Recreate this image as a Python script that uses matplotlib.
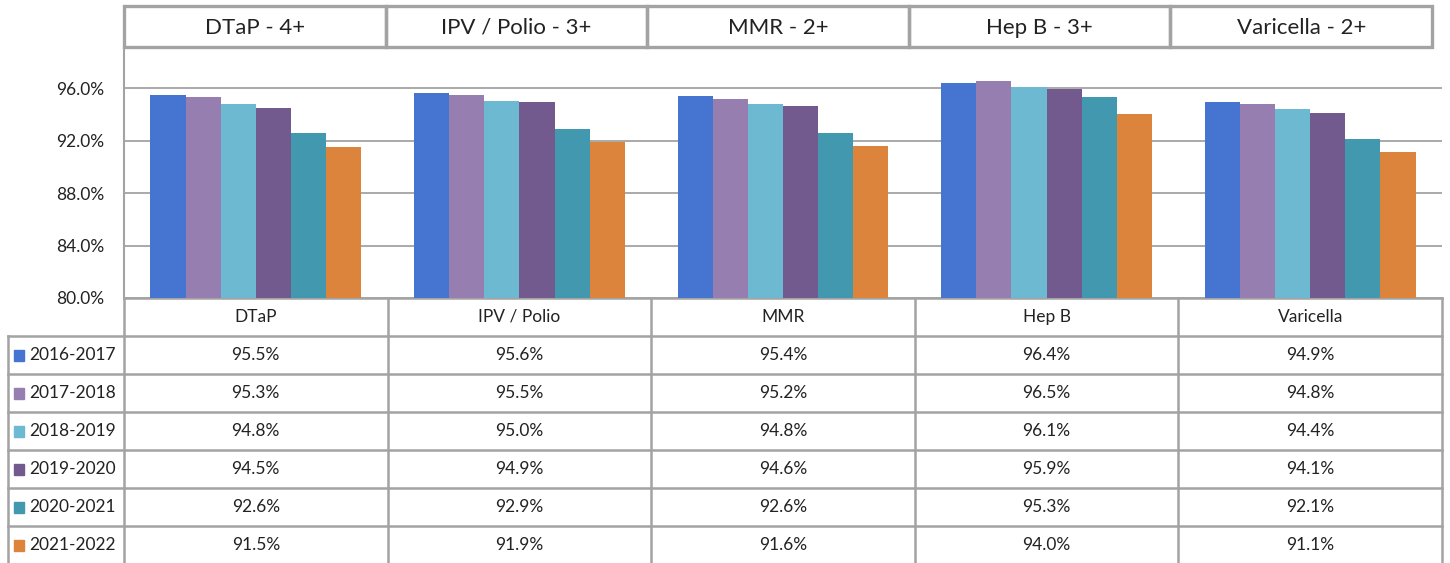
import numpy as np
import matplotlib.pyplot as plt
from matplotlib.patches import Rectangle

plt.rcParams['font.family'] = ['Lato', 'DejaVu Sans']

# Datos
vacunas = ['DTaP', 'IPV / Polio', 'MMR', 'Hep B', 'Varicella']
titulos = ['DTaP - 4+', 'IPV / Polio - 3+', 'MMR - 2+', 'Hep B - 3+', 'Varicella - 2+']
periodos = ['2016-2017', '2017-2018', '2018-2019', '2019-2020', '2020-2021', '2021-2022']
v_2016 = [95.5, 95.6, 95.4, 96.4, 94.9]
v_2017 = [95.3, 95.5, 95.2, 96.5, 94.8]
v_2018 = [94.8, 95.0, 94.8, 96.1, 94.4]
v_2019 = [94.5, 94.9, 94.6, 95.9, 94.1]
v_2020 = [92.6, 92.9, 92.6, 95.3, 92.1]
v_2021 = [91.5, 91.9, 91.6, 94.0, 91.1]
series = [v_2016, v_2017, v_2018, v_2019, v_2020, v_2021]
colores = ['#4674D1', '#967FB0', '#6DB9D1', '#725A8E', '#4298AE', '#DD843C']
yticks = [80, 84, 88, 92, 96]

W, H = 1450, 563
gris = '#A3A3A3'
fig = plt.figure(figsize=(W / 100, H / 100), dpi=100)

# capa en pixeles para cabecera y tabla
ov = fig.add_axes([0, 0, 1, 1])
ov.set_xlim(0, W)
ov.set_ylim(H, 0)
ov.axis('off')

# eje principal de barras
x0, x1, ytop, ybot = 124, 1442, 47, 298
ax = fig.add_axes([x0 / W, (H - ybot) / H, (x1 - x0) / W, (ybot - ytop) / H])
ax.patch.set_alpha(0)
n = len(vacunas)
x = np.arange(n)
ancho = 0.8 / len(series)
for i, (vals, c) in enumerate(zip(series, colores)):
    ax.bar(x + (i - 2.5) * ancho, vals, width=ancho, color=c, zorder=3)
ax.set_xlim(-0.5, n - 0.5)
ax.set_ylim(80, 80 + (ybot - ytop) / 52.5 * 4)
ax.set_yticks(yticks)
ax.set_yticklabels([f'{t:.1f}%' for t in yticks], fontsize=12.5, color='#222222')
ax.set_xticks([])
ax.tick_params(axis='y', length=0, pad=14)
ax.yaxis.grid(True, color=gris, lw=1.3, zorder=0)
for s in ['top', 'right', 'bottom']:
    ax.spines[s].set_visible(False)
ax.spines['left'].set_color(gris)
ax.spines['left'].set_linewidth(1.5)

# cabecera con títulos
hx0, hx1, hy0, hy1 = 124, 1432, 6, 47
hw = (hx1 - hx0) / n
for j, t in enumerate(titulos):
    ov.add_patch(Rectangle((hx0 + j * hw, hy0), hw, hy1 - hy0, fill=False,
                           ec=gris, lw=2.4))
    ov.text(hx0 + (j + 0.5) * hw, (hy0 + hy1) / 2 + 1, t, ha='center', va='center',
            fontsize=16, color='#222222')

# tabla de datos
cw = (x1 - x0) / n
fila = 38
ty0 = ybot
filas_y = [ty0 + k * fila for k in range(len(periodos) + 2)]
lx = 8
# líneas horizontales
ov.plot([x0, x1], [ty0, ty0], color=gris, lw=1.8)
for yy in filas_y[1:]:
    ov.plot([lx, x1], [yy, yy], color=gris, lw=1.8)
# líneas verticales
for j in range(n + 1):
    ov.plot([x0 + j * cw] * 2, [ty0, filas_y[-1]], color=gris, lw=1.8)
ov.plot([lx, lx], [filas_y[1], filas_y[-1]], color=gris, lw=1.8)

for j, v in enumerate(vacunas):
    ov.text(x0 + (j + 0.5) * cw, ty0 + fila / 2, v, ha='center', va='center',
            fontsize=12.5, color='#222222')
for k, (p, vals, c) in enumerate(zip(periodos, series, colores)):
    yc = filas_y[k + 1] + fila / 2
    ov.add_patch(Rectangle((14, yc - 5.5), 10, 11, color=c))
    ov.text(29, yc, p, ha='left', va='center', fontsize=12.5, color='#222222')
    for j, v in enumerate(vals):
        ov.text(x0 + (j + 0.5) * cw, yc, f'{v:.1f}%', ha='center', va='center',
                fontsize=12.5, color='#222222')

fig.savefig('out.png', dpi=100)
